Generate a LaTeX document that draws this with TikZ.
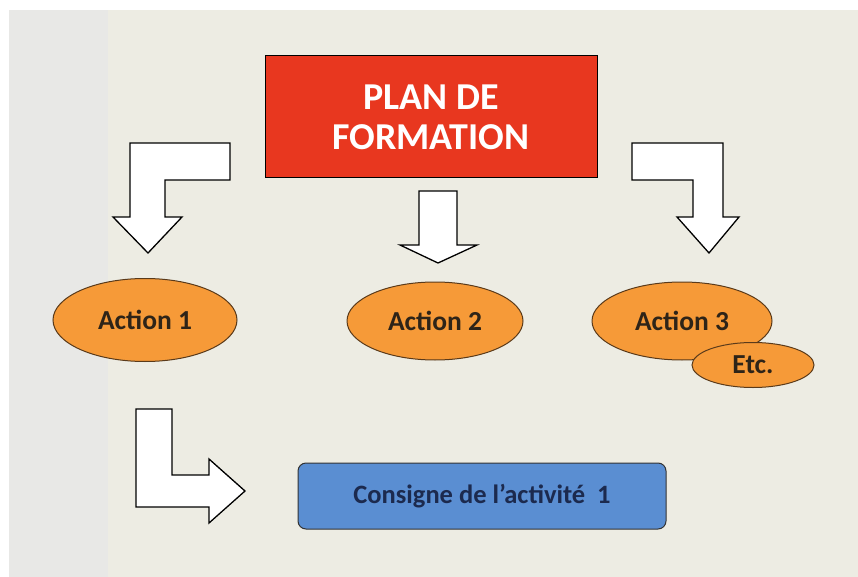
\documentclass[tikz,border=0pt]{standalone}
\usepackage{fontspec}
\setmainfont{Carlito}
\usetikzlibrary{shapes.geometric}
\definecolor{bgbeige}{HTML}{EDECE3}
\definecolor{bggray}{HTML}{E8E8E6}
\definecolor{planred}{HTML}{E8371F}
\definecolor{actorange}{HTML}{F69A38}
\definecolor{actline}{HTML}{5A3A1A}
\definecolor{acttext}{HTML}{2E2418}
\definecolor{consblue}{HTML}{5A8ED2}
\definecolor{constext}{HTML}{1C2A4E}
\tikzset{
  bigarrow/.style={draw=black, fill=white, line width=1.3pt, line join=miter},
  actell/.style={ellipse, draw=actline, fill=actorange, line width=1pt, inner sep=0pt,
     font=\fontsize{27.5}{30}\selectfont\bfseries, text=acttext},
}
\begin{document}
\begin{tikzpicture}[x=1pt,y=-1pt]
\useasboundingbox (0,0) rectangle (858,577);
\fill[white] (0,0) rectangle (858,577);
\fill[bgbeige] (9,10) rectangle (858,577);
\fill[bggray] (9,10) rectangle (108,577);

% title box
\node[draw=black, fill=planred, line width=1pt, minimum width=332pt, minimum height=122pt,
  align=center, text=white, font=\fontsize{38}{40}\selectfont\bfseries]
  (plan) at (431,117) {PLAN DE\\FORMATION};

% bent arrows
\draw[bigarrow] (130,143) -- (230,143) -- (230,180) -- (165,180) -- (165,217) -- (182,217)
  -- (148,253) -- (113,217) -- (130,217) -- cycle;
\draw[bigarrow] (632,143) -- (723,143) -- (723,217) -- (739,217) -- (709,253) -- (677,217)
  -- (693,217) -- (693,180) -- (632,180) -- cycle;
\draw[bigarrow] (419,191) -- (457,191) -- (457,245) -- (477,245) -- (438,263) -- (400,245)
  -- (419,245) -- cycle;

% actions
\node[actell, minimum width=184pt, minimum height=83pt] (a1) at (145,320) {Action 1};
\node[actell, minimum width=176pt, minimum height=78pt] (a2) at (435,321) {Action 2};
\node[actell, minimum width=180pt, minimum height=78pt] (a3) at (682,321) {Action 3};
\node[actell, minimum width=122pt, minimum height=45pt] (etc) at (753,365) {Etc.};

% L arrow
\draw[bigarrow] (136,409) -- (172,409) -- (172,475) -- (209,475) -- (209,459) -- (245,491)
  -- (209,523) -- (209,507) -- (136,507) -- cycle;

% consigne box
\node[draw=black!80, fill=consblue, line width=1pt, rounded corners=8pt,
  minimum width=368pt, minimum height=66pt, text=constext,
  font=\fontsize{26.5}{29}\selectfont\bfseries] (cons) at (482,496) {Consigne de l'activité~~1};
\end{tikzpicture}
\end{document}
